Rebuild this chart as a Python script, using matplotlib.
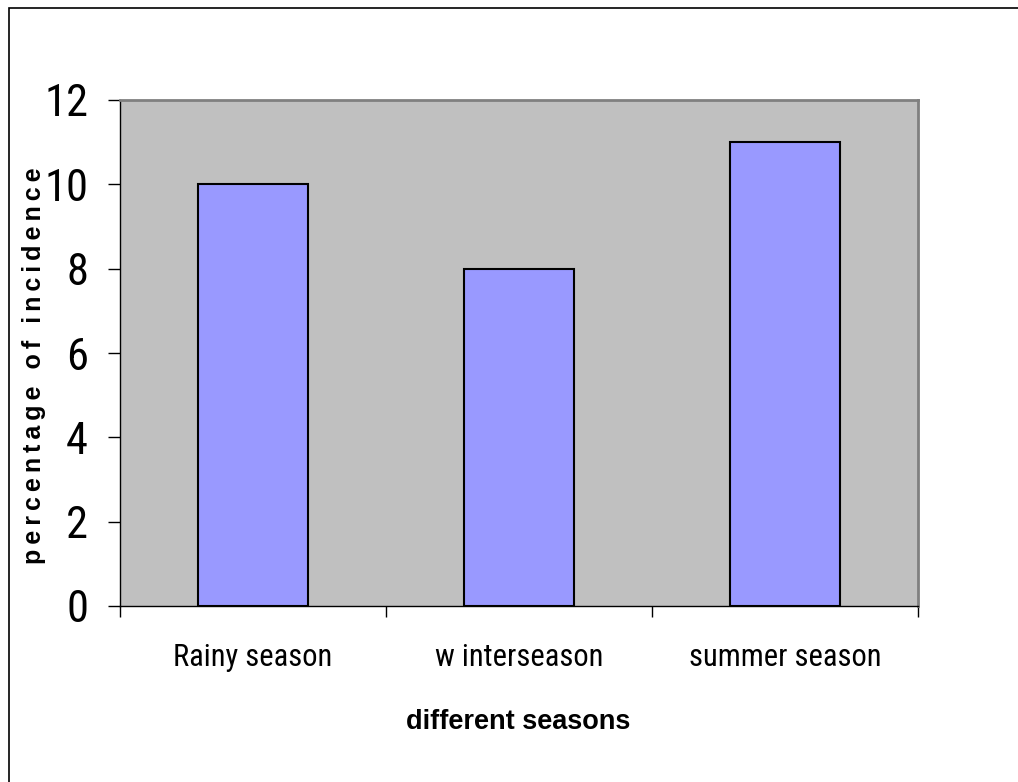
import matplotlib
matplotlib.use("Agg")
import matplotlib.pyplot as plt
from matplotlib import font_manager
from matplotlib.font_manager import FontProperties
from matplotlib.patches import Rectangle
from matplotlib.ticker import FixedLocator, NullFormatter

seasons = ["Rainy season", "w interseason", "summer season"]
incidence = [10, 8, 11]
y_ticks = [0, 2, 4, 6, 8, 10, 12]


def narrow_font(size):
    """Pick a condensed sans-serif face if one is installed."""
    wanted = ["liberation sans narrow", "arial narrow", "roboto condensed",
              "open sans condensed", "dejavu sans condensed"]
    entries = font_manager.fontManager.ttflist
    for name in wanted:
        for f in entries:
            if f.name.lower() == name and f.weight in (400, "normal", "regular") \
                    and f.style == "normal":
                return FontProperties(fname=f.fname, size=size)
    for f in entries:
        low = f.name.lower()
        if ("narrow" in low or "condensed" in low) and "mono" not in low \
                and "serif" not in low and f.style == "normal":
            return FontProperties(fname=f.fname, size=size)
    for f in entries:
        if f.stretch in ("condensed", "semi-condensed", 75, 87.5) and \
                "Sans" in f.name and "Mono" not in f.name and f.style == "normal" \
                and f.weight in (400, "normal", "regular"):
            return FontProperties(fname=f.fname, size=size)
    return FontProperties(family=["Liberation Sans", "DejaVu Sans"], size=size)


W, H = 1018, 782
fig = plt.figure(figsize=(W / 100, H / 100), dpi=100)
fig.patch.set_facecolor("white")

# outer frame of the chart object
fig.patches.append(Rectangle((9 / W, -0.1), 1.2, 1 - 8 / H + 0.1,
                             transform=fig.transFigure, fill=False,
                             edgecolor="black", linewidth=1.2, zorder=0))

ax = fig.add_axes([120 / W, 1 - 606 / H, (918 - 120) / W, (606 - 100) / H])
ax.set_facecolor("#C0C0C0")

x = list(range(len(seasons)))
ax.bar(x, incidence, width=0.41, color="#9999FF", edgecolor="black",
       linewidth=1.5, zorder=3)

ax.set_xlim(-0.5, len(seasons) - 0.5)
ax.set_ylim(0, 12)

ax.set_yticks(y_ticks)
ax.set_yticklabels([str(v) for v in y_ticks], fontproperties=narrow_font(32))
ax.tick_params(axis="y", direction="out", length=9, width=1, pad=14,
               color="black")

# category boundaries carry the tick marks, centres carry the labels
ax.xaxis.set_major_locator(FixedLocator([i - 0.5 for i in range(len(seasons) + 1)]))
ax.xaxis.set_major_formatter(NullFormatter())
ax.xaxis.set_minor_locator(FixedLocator(x))
ax.set_xticklabels(seasons, minor=True, fontproperties=narrow_font(22))
ax.tick_params(axis="x", which="major", direction="out", length=8, width=1,
               color="black")
ax.tick_params(axis="x", which="minor", length=0, pad=27)

for side in ("top", "right"):
    ax.spines[side].set_color("#808080")
    ax.spines[side].set_linewidth(2)
for side in ("left", "bottom"):
    ax.spines[side].set_color("black")
    ax.spines[side].set_linewidth(1)

ylabel = "\u2009".join("percentage of incidence")
fig.text(34 / W, 1 - 366 / H, ylabel,
         rotation=90, ha="center", va="center", fontsize=18,
         fontweight="bold", family=["Liberation Sans", "DejaVu Sans"])
fig.text(518 / W, 1 - 722 / H, "different seasons",
         ha="center", va="center", fontsize=19.5, fontweight="bold",
         family=["Liberation Sans", "DejaVu Sans"])

fig.savefig("out.png", dpi=100)
